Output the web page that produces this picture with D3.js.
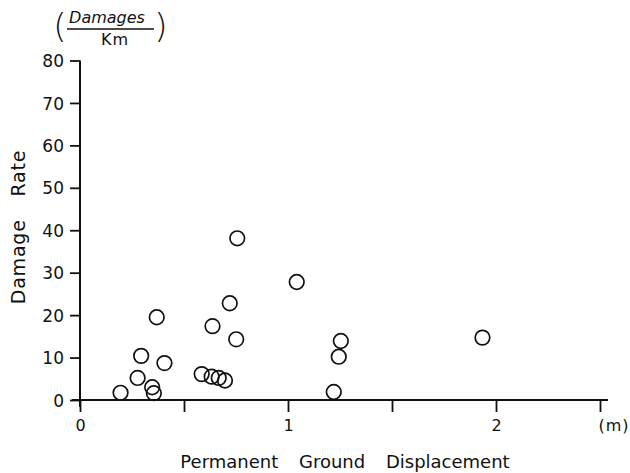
<!DOCTYPE html>
<html>
<head>
<meta charset="utf-8">
<script src="https://cdn.jsdelivr.net/npm/d3@7"></script>
<style>
  html, body { margin: 0; padding: 0; background: #fff; }
  svg { display: block; }
  text { font-family: "DejaVu Sans", sans-serif; fill: #111; }
</style>
</head>
<body>
<svg id="chart" width="630" height="473"></svg>
<script>
// Permanent ground displacement (m) vs. damage rate (damages per km)
const displacement = [0.756, 1.042, 0.720, 0.369, 0.637, 0.751, 0.294, 0.406, 0.277,
                      0.585, 0.633, 0.667, 0.697, 0.195, 0.347, 0.355, 1.254, 1.244,
                      1.220, 1.935];
const damageRate   = [38.1, 27.8, 22.8, 19.5, 17.4, 14.3, 10.4, 8.7, 5.2,
                      6.1, 5.5, 5.2, 4.6, 1.7, 3.0, 1.6, 13.9, 10.2,
                      1.9, 14.7];
const yTicks = [0, 10, 20, 30, 40, 50, 60, 70, 80];
const xTicks = [0, 0.5, 1, 1.5, 2, 2.5];
const xTickLabels = ["0", "", "1", "", "2", "(m)"];

const svg = d3.select("#chart");
const ink = "#111";

const x = d3.scaleLinear().domain([0, 2.5]).range([80, 600]);
const y = d3.scaleLinear().domain([0, 80]).range([400, 60.5]);

// Y axis
const yAxis = svg.append("g")
  .attr("transform", `translate(${x(0)},0)`)
  .call(d3.axisLeft(y).tickValues(yTicks).tickSize(10).tickSizeOuter(0).tickPadding(6));
yAxis.select(".domain").attr("stroke", ink).attr("stroke-width", 2)
  .attr("d", `M0,${y(80)}V${y(0) + 7}`);
yAxis.selectAll(".tick line").attr("stroke", ink).attr("stroke-width", 1.8);
yAxis.selectAll(".tick text")
  .attr("font-family", "DejaVu Sans, sans-serif")
  .attr("font-size", 17).attr("fill", ink).attr("dy", "0.36em");

// X axis
const xAxis = svg.append("g")
  .attr("transform", `translate(0,${y(0)})`)
  .call(d3.axisBottom(x).tickValues(xTicks).tickSize(12).tickSizeOuter(0).tickPadding(8)
    .tickFormat((d, i) => xTickLabels[i]));
xAxis.select(".domain").attr("stroke", ink).attr("stroke-width", 2)
  .attr("d", `M${x(0) - 8},0H${x(2.5) + 8}`);
xAxis.selectAll(".tick line").attr("stroke", ink).attr("stroke-width", 1.8);
xAxis.selectAll(".tick text")
  .attr("font-family", "DejaVu Sans, sans-serif")
  .attr("font-size", 16).attr("fill", ink);
xAxis.selectAll(".tick text").filter((d, i) => i === 5)
  .attr("text-anchor", "start").attr("dx", "-2").attr("letter-spacing", 1);

// Axis titles
svg.append("text")
  .attr("x", 345).attr("y", 468)
  .attr("text-anchor", "middle")
  .attr("font-size", 18)
  .attr("word-spacing", 15)
  .text("Permanent Ground Displacement");

svg.append("text")
  .attr("transform", "translate(25,227) rotate(-90)")
  .attr("text-anchor", "middle")
  .attr("font-size", 19)
  .attr("letter-spacing", 0.8)
  .attr("word-spacing", 16)
  .text("Damage Rate");

// Unit label: (Damages / Km)
const unit = svg.append("g");
unit.append("text").attr("x", 107).attr("y", 23)
  .attr("text-anchor", "middle").attr("font-size", 16).attr("font-style", "italic")
  .text("Damages");
unit.append("line").attr("x1", 67).attr("x2", 154).attr("y1", 29).attr("y2", 29)
  .attr("stroke", ink).attr("stroke-width", 1.5);
unit.append("text").attr("x", 115).attr("y", 45)
  .attr("text-anchor", "middle").attr("font-size", 16).attr("letter-spacing", 1)
  .text("Km");
unit.append("text").attr("x", 60).attr("y", 38)
  .attr("text-anchor", "middle").attr("font-size", 34).attr("font-weight", 200)
  .text("(");
unit.append("text").attr("x", 161).attr("y", 38)
  .attr("text-anchor", "middle").attr("font-size", 34).attr("font-weight", 200)
  .text(")");

// Observations
svg.append("g").selectAll("circle")
  .data(d3.zip(displacement, damageRate))
  .join("circle")
  .attr("cx", d => x(d[0]))
  .attr("cy", d => y(d[1]))
  .attr("r", 7.3)
  .attr("fill", "none")
  .attr("stroke", ink)
  .attr("stroke-width", 1.7);
</script>
</body>
</html>
